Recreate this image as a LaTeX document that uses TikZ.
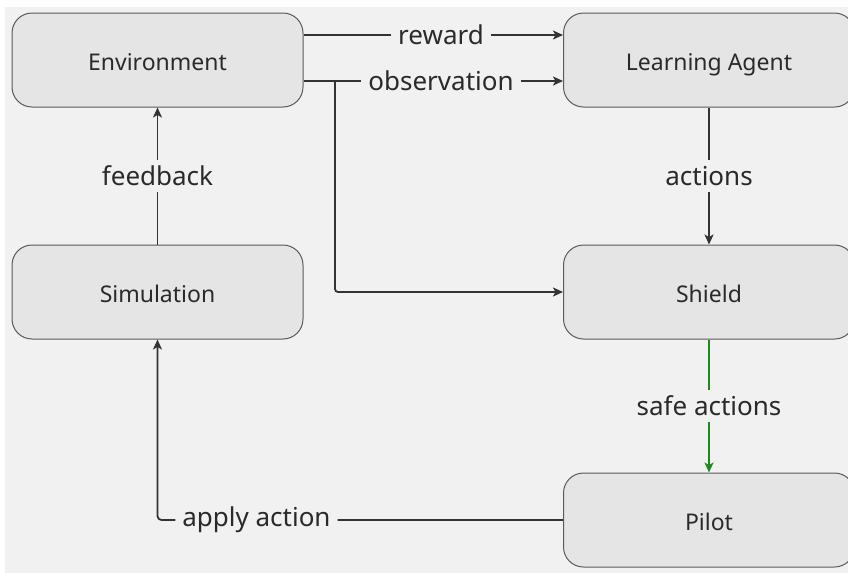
\documentclass[tikz,border=0pt]{standalone}
\usepackage{fontspec}
\setmainfont{Noto Sans}
\usetikzlibrary{arrows.meta}
\definecolor{pagebg}{HTML}{F1F1F1}
\definecolor{boxfill}{HTML}{E5E5E5}
\definecolor{boxline}{HTML}{5A5A5A}
\definecolor{ink}{HTML}{2A2A2A}
\definecolor{wire}{HTML}{333333}
\definecolor{safegreen}{HTML}{1E8A1E}
\begin{document}
\begin{tikzpicture}[x=1pt,y=-1pt,
  box/.style={draw=boxline, fill=boxfill, rounded corners=20pt,
    minimum width=291pt, minimum height=94pt, line width=1pt,
    text=ink, font=\fontsize{23}{27}\selectfont,
    text height=21pt, text depth=1pt},
  link/.style={draw=wire, line width=1.8pt, -{Stealth[length=10pt,width=9pt,inset=2.5pt]}},
  safelink/.style={link, draw=safegreen},
  lbl/.style={fill=pagebg, text=ink, inner xsep=7pt, inner ysep=6pt, font=\fontsize{26}{30}\selectfont}]
\useasboundingbox (0,0) rectangle (848,574);
\fill[white] (0,0) rectangle (848,574);
\fill[pagebg] (5,7) rectangle (848,573);

% components
\node[box] (env)    at (157.5,60)  {Environment};
\node[box] (agent)  at (709,60)    {Learning Agent};
\node[box] (sim)    at (157.5,292) {Simulation};
\node[box] (shield) at (709,292)   {Shield};
\node[box] (pilot)  at (709,520)   {Pilot};

% environment to agent
\draw[link] ([yshift=25pt]env.east) -- node[lbl, pos=0.53] {reward} ([yshift=25pt]agent.west);
\draw[link] ([yshift=-21pt]env.east) -- node[lbl, pos=0.53] {observation} ([yshift=-21pt]agent.west);
\coordinate (tap) at (335,81);
\draw[link, rounded corners=3pt] (tap) |- (shield.west);

% agent to shield to pilot
\draw[link] (agent) -- node[lbl] {actions} (shield);
\draw[safelink] (shield) -- node[lbl] {safe actions} (pilot);

% pilot back to simulation and environment
\draw[link, rounded corners=4pt] (pilot.west) -| node[lbl, pos=0.378] {apply action} (sim.south);
\draw[link] (sim) -- node[lbl] {feedback} (env);
\end{tikzpicture}
\end{document}
